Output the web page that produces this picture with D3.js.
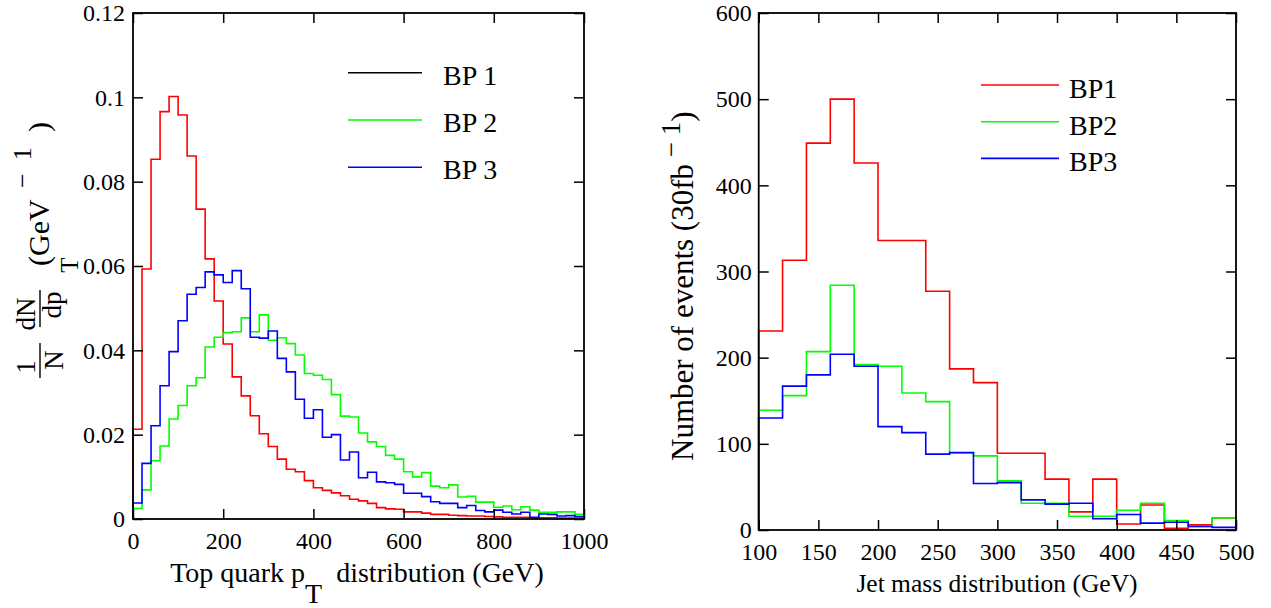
<!DOCTYPE html>
<html lang="en">
<head>
  <meta charset="UTF-8">
  <title>Top quark pT and jet mass</title>
  <style>
    body { margin: 0; background: #fff; }
    text { font-family: "Liberation Serif", "Times New Roman", serif; fill: #000; }
  </style>
</head>
<body>
<script src="https://d3js.org/d3.v7.min.js"></script>
<div id="d3_chart"></div>
<script>
    // ---------------- data ----------------
    // left: top quark pT, 20 GeV bins from 0 to 1000
    const ptEdges = d3.range(0, 1001, 20);
    const ptBP1 = [0.0213, 0.0593, 0.0853, 0.0966, 0.1002, 0.0958, 0.0861, 0.0735, 0.0617, 0.0517,
                   0.0415, 0.0337, 0.0292, 0.0245, 0.0202, 0.0172, 0.0142, 0.0118, 0.0112, 0.0091,
                   0.0074, 0.0068, 0.0062, 0.0055, 0.0047, 0.0043, 0.0037, 0.0027, 0.0024, 0.0023,
                   0.0017, 0.0017, 0.0014, 0.0011, 0.0011, 0.0009, 0.0008, 0.0007, 0.0007, 0.0006,
                   0.0005, 0.0004, 0.0004, 0.0004, 0.0003, 0.0003, 0.0003, 0.0002, 0.0002, 0.0002];
    const ptBP2 = [0.0025, 0.0069, 0.0138, 0.0173, 0.0237, 0.0269, 0.0316, 0.0335, 0.0408, 0.0431,
                   0.0442, 0.0444, 0.0477, 0.0444, 0.0484, 0.0424, 0.0430, 0.0416, 0.0389, 0.0345,
                   0.0341, 0.0331, 0.0295, 0.0244, 0.0242, 0.0204, 0.0183, 0.0172, 0.0151, 0.0142,
                   0.0112, 0.0100, 0.0110, 0.0078, 0.0074, 0.0081, 0.0052, 0.0054, 0.0040, 0.0040,
                   0.0028, 0.0031, 0.0022, 0.0029, 0.0021, 0.0016, 0.0016, 0.0017, 0.0017, 0.0011];
    const ptBP3 = [0.0038, 0.0132, 0.0221, 0.0316, 0.0397, 0.0470, 0.0533, 0.0549, 0.0586, 0.0579,
                   0.0561, 0.0589, 0.0546, 0.0431, 0.0429, 0.0446, 0.0381, 0.0349, 0.0284, 0.0239,
                   0.0259, 0.0194, 0.0200, 0.0140, 0.0159, 0.0098, 0.0111, 0.0088, 0.0086, 0.0082,
                   0.0061, 0.0061, 0.0053, 0.0041, 0.0037, 0.0037, 0.0027, 0.0032, 0.0020, 0.0017,
                   0.0021, 0.0016, 0.0012, 0.0016, 0.0004, 0.0012, 0.0011, 0.0007, 0.0008, 0.0006];
    const ptXTicks = [0, 200, 400, 600, 800, 1000];
    const ptYTicks = [0, 0.02, 0.04, 0.06, 0.08, 0.1, 0.12];
    const ptLegend = ["BP 1", "BP 2", "BP 3"];

    // right: jet mass, 20 GeV bins from 100 to 500, events at 30 fb^-1
    const massEdges = d3.range(100, 501, 20);
    const massBP1 = [231, 313, 449, 500, 426, 336, 336, 277, 187, 171, 89, 89, 59, 21, 59, 7, 29, 2, 6, 14];
    const massBP2 = [139, 156, 207, 284, 192, 190, 159, 149, 89, 86, 57, 31, 31, 16, 16, 23, 31, 11, 4, 14];
    const massBP3 = [130, 167, 180, 204, 190, 120, 113, 88, 90, 54, 55, 35, 30, 31, 13, 18, 8, 9, 4, 3];
    const massXTicks = [100, 150, 200, 250, 300, 350, 400, 450, 500];
    const massYTicks = [0, 100, 200, 300, 400, 500, 600];
    const massLegend = ["BP1", "BP2", "BP3"];

    // ---------------- layout ----------------
    const svg = d3.select("#d3_chart").append("svg")
        .attr("width", 1271).attr("height", 608);

    const left = {x0: 133, x1: 584, top: 13, bottom: 519};
    const right = {x0: 758.7, x1: 1236, top: 13, bottom: 530};

    const xPt = d3.scaleLinear().domain([0, 1000]).range([left.x0, left.x1]);
    const yPt = d3.scaleLinear().domain([0, 0.12]).range([left.bottom, left.top]);
    const xMass = d3.scaleLinear().domain([100, 500]).range([right.x0, right.x1]);
    const yMass = d3.scaleLinear().domain([0, 600]).range([right.bottom, right.top]);

    // step outline of a histogram, starting and ending on the zero line
    function histPath(edges, vals, x, y) {
      const pts = [[edges[0], 0]];
      vals.forEach((v, i) => pts.push([edges[i], v]));
      pts.push([edges[edges.length - 1], vals[vals.length - 1]]);
      pts.push([edges[edges.length - 1], 0]);
      return d3.line().x(d => x(d[0])).y(d => y(d[1])).curve(d3.curveStepAfter)(pts);
    }

    function frame(box, x, y, xTicks, yTicks, yFmt, yPad) {
      const g = svg.append("g").attr("class", "axes");
      const tick = 10;
      g.append("g").attr("transform", `translate(0,${box.bottom})`)
        .call(d3.axisBottom(x).tickValues(xTicks).tickSizeInner(-tick).tickSizeOuter(0).tickPadding(12.5).tickFormat(d3.format("d")));
      g.append("g").attr("transform", `translate(0,${box.top})`)
        .call(d3.axisTop(x).tickValues(xTicks).tickSizeInner(-tick).tickSizeOuter(0).tickFormat(""));
      g.append("g").attr("transform", `translate(${box.x0},0)`)
        .call(d3.axisLeft(y).tickValues(yTicks).tickSizeInner(-tick).tickSizeOuter(0).tickPadding(yPad).tickFormat(yFmt));
      g.append("g").attr("transform", `translate(${box.x1},0)`)
        .call(d3.axisRight(y).tickValues(yTicks).tickSizeInner(-tick).tickSizeOuter(0).tickFormat(""));
      g.selectAll(".domain").remove();
      g.selectAll(".tick line").attr("stroke", "#000").attr("stroke-width", 1.5);
      g.selectAll(".tick text").style("font-size", "24px");
      g.append("rect")
        .attr("x", box.x0).attr("y", box.top)
        .attr("width", box.x1 - box.x0).attr("height", box.bottom - box.top)
        .attr("fill", "none").attr("stroke", "#000").attr("stroke-width", 1.8);
    }

    const colors = ["#ff0000", "#00ff00", "#0000ff"];

    // ---------------- left panel ----------------
    [ptBP1, ptBP2, ptBP3].forEach((vals, i) => {
      svg.append("path")
        .attr("d", histPath(ptEdges, vals, xPt, yPt))
        .attr("fill", "none").attr("stroke", colors[i]).attr("stroke-width", 1.6);
    });
    frame(left, xPt, yPt, ptXTicks, ptYTicks, d => d === 0 ? "0" : String(+d.toFixed(2)), 8);

    // legend (first entry is drawn in black, as in the original)
    const ptLegColors = ["#000", "#00ff00", "#0000ff"];
    ptLegend.forEach((name, i) => {
      const yy = 72.7 + i * 47.3;
      svg.append("line").attr("x1", 348).attr("x2", 422).attr("y1", yy).attr("y2", yy)
        .attr("stroke", ptLegColors[i]).attr("stroke-width", 1.6);
      svg.append("text").attr("x", 443).attr("y", yy + 12).style("font-size", "28px").text(name);
    });

    // x title with subscript
    const ptXT = svg.append("text").attr("x", 357).attr("y", 582).attr("text-anchor", "middle").style("font-size", "28px");
    ptXT.append("tspan").text("Top quark p");
    ptXT.append("tspan").attr("dy", 21).text("T");
    ptXT.append("tspan").attr("dy", -21).text("\u00a0 distribution (GeV)");

    // y title: 1/N dN/dpT (GeV^-1), rotated
    const yt = svg.append("g").attr("transform", "rotate(-90)").style("font-size", "27px");
    yt.append("text").attr("x", -367).attr("y", 34.5).attr("text-anchor", "middle").text("1");
    yt.append("line").attr("x1", -378).attr("x2", -343).attr("y1", 40).attr("y2", 40).attr("stroke", "#000").attr("stroke-width", 1.4);
    yt.append("text").attr("x", -360).attr("y", 62.5).attr("text-anchor", "middle").text("N");
    yt.append("text").attr("x", -314).attr("y", 34.5).attr("text-anchor", "middle").text("dN");
    yt.append("line").attr("x1", -327).attr("x2", -290).attr("y1", 40).attr("y2", 40).attr("stroke", "#000").attr("stroke-width", 1.4);
    yt.append("text").attr("x", -305).attr("y", 61).attr("text-anchor", "middle").text("dp");
    yt.append("text").attr("x", -265).attr("y", 78).attr("text-anchor", "middle").style("font-size", "25px").text("T");
    yt.append("text").attr("x", -266).attr("y", 49).style("font-size", "30px").text("(GeV");
    yt.append("text").attr("x", -188).attr("y", 31).style("font-size", "26px").text("\u2212\u00a0\u00a01");
    yt.append("text").attr("x", -132).attr("y", 49).style("font-size", "30px").text(")");

    // ---------------- right panel ----------------
    [massBP1, massBP2, massBP3].forEach((vals, i) => {
      svg.append("path")
        .attr("d", histPath(massEdges, vals, xMass, yMass))
        .attr("fill", "none").attr("stroke", colors[i]).attr("stroke-width", 1.6);
    });
    frame(right, xMass, yMass, massXTicks, massYTicks, d3.format("d"), 7);

    massLegend.forEach((name, i) => {
      const yy = 85 + i * 36.7;
      svg.append("line").attr("x1", 981).attr("x2", 1059).attr("y1", yy).attr("y2", yy)
        .attr("stroke", colors[i]).attr("stroke-width", 1.6);
      svg.append("text").attr("x", 1069).attr("y", yy + 13).style("font-size", "28px").text(name);
    });

    svg.append("text").attr("x", 997).attr("y", 592).attr("text-anchor", "middle")
      .style("font-size", "25.5px").text("Jet mass distribution (GeV)");

    const myt = svg.append("text").attr("transform", "translate(693,461) rotate(-90)").style("font-size", "31px");
    myt.append("tspan").text("Number of events (30fb");
    myt.append("tspan").attr("dy", -13).style("font-size", "27px").text("\u00a0\u2212 1");
    myt.append("tspan").attr("dy", 13).text(")");
</script>
</body>
</html>
